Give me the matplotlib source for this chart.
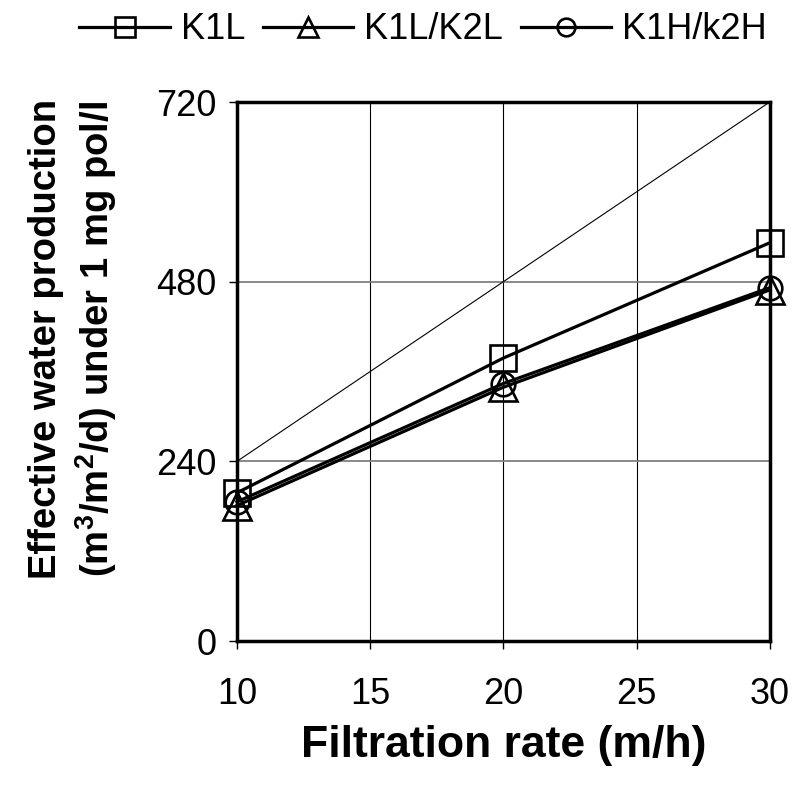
import matplotlib
matplotlib.use("Agg")
import matplotlib.pyplot as plt

plt.rcParams["font.family"] = ["Liberation Sans", "DejaVu Sans"]
plt.rcParams["mathtext.fontset"] = "custom"
plt.rcParams["mathtext.rm"] = "Liberation Sans:bold"
plt.rcParams["mathtext.it"] = "Liberation Sans:bold"
plt.rcParams["mathtext.bf"] = "Liberation Sans:bold"

# Filtration rate (m/h)
rates = [10, 20, 30]
# Effective water production (m3/m2/d) under 1 mg pol/l
k1l = [198, 378, 532]
k1l_k2l = [181, 339, 469]
k1h_k2h = [186, 344, 472]

# Reference line: production at the nominal filtration rate (rate x 24 h)
ref_rates = [10, 30]
ref_prod = [240, 720]

x_ticks = [10, 15, 20, 25, 30]
y_ticks = [0, 240, 480, 720]

fig = plt.figure(figsize=(8.06, 7.85), dpi=100)
ax = fig.add_axes([0.294, 0.1834, 0.661, 0.6866])

ax.set_xlim(10, 30)
ax.set_ylim(0, 720)
ax.set_xticks(x_ticks)
ax.set_yticks(y_ticks)

# grid
for xv in x_ticks[1:-1]:
    ax.axvline(xv, color="black", lw=0.8, zorder=1)
for yv in y_ticks[1:-1]:
    ax.axhline(yv, color="#808080", lw=1.3, zorder=1)

ax.plot(ref_rates, ref_prod, color="black", lw=0.8, zorder=2)

mk = dict(color="black", lw=2.3, markerfacecolor="none", markeredgecolor="black",
          markeredgewidth=1.9, zorder=3, clip_on=False)
ax.plot(rates, k1l, marker="s", markersize=18.5, label="K1L", **mk)
ax.plot(rates, k1l_k2l, marker="^", markersize=20, label="K1L/K2L", **mk)
ax.plot(rates, k1h_k2h, marker="o", markersize=17, label="K1H/k2H", **mk)

for s in ax.spines.values():
    s.set_linewidth(2.5)
    s.set_zorder(4)

ax.tick_params(axis="both", direction="out", length=6, width=1.0,
               labelsize=26, color="black")
ax.tick_params(axis="x", pad=20)
ax.tick_params(axis="y", pad=9)

ax.set_xlabel("Filtration rate (m/h)", fontsize=32, fontweight="bold")
ax.xaxis.set_label_coords(0.5, -0.155)
ax.set_ylabel("Effective water production\n(m$^{3}$/m$^{2}$/d) under 1 mg pol/l",
              fontsize=27.5, fontweight="bold", linespacing=1.25)
ax.yaxis.set_label_coords(-0.222, 0.56)

fig.legend(loc="upper center", bbox_to_anchor=(0.525, 1.012), ncol=3, frameon=False,
           fontsize=26, handlelength=2.5, handletextpad=0.3, columnspacing=0.5,
           borderaxespad=0.2, markerscale=0.75)

fig.savefig("out.png", dpi=100)
